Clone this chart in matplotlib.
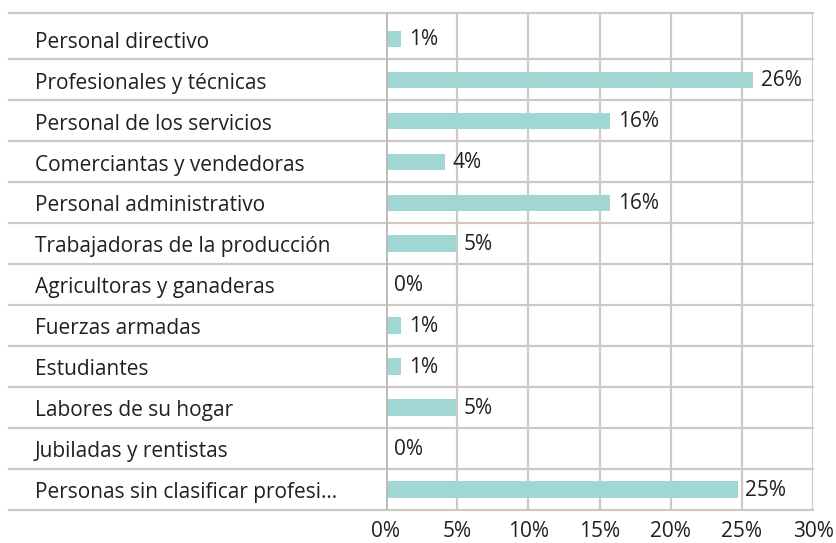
import matplotlib
matplotlib.use("Agg")
import matplotlib.pyplot as plt
import matplotlib.transforms as mtransforms

categories = ['Personal directivo', 'Profesionales y técnicas', 'Personal de los servicios',
              'Comerciantas y vendedoras', 'Personal administrativo',
              'Trabajadoras de la producción', 'Agricultoras y ganaderas',
              'Fuerzas armadas', 'Estudiantes', 'Labores de su hogar',
              'Jubiladas y rentistas', 'Personas sin clasificar profesi...']
values = [1.05, 25.8, 15.75, 4.15, 15.75, 4.9, 0.0, 1.05, 1.05, 4.9, 0.0, 24.7]
value_labels = ['1%', '26%', '16%', '4%', '16%', '5%', '0%', '1%', '1%', '5%', '0%', '25%']
xticks = [0, 5, 10, 15, 20, 25, 30]
xtick_labels = ['0%', '5%', '10%', '15%', '20%', '25%', '30%']

plt.rcParams['font.family'] = ['Open Sans', 'DejaVu Sans']
txt_color = '#231f20'
grid_color = '#cdc9c6'
bar_color = '#a0d6d3'
fs = 15

W, H = 836, 543
fig = plt.figure(figsize=(W / 100, H / 100), dpi=100)
x0, x1, y_top, y_bot = 386, 813, 13, 510
ax = fig.add_axes([x0 / W, 1 - y_bot / H, (x1 - x0) / W, (y_bot - y_top) / H])

n = len(categories)
pos = list(range(n))
ax.barh(pos, values, height=0.4, color=bar_color, zorder=3)
ax.set_xlim(0, 30)
ax.set_ylim(n - 0.5, -0.63)

for s in ax.spines.values():
    s.set_visible(False)

# vertical grid
for t in xticks:
    ax.axvline(t, color=grid_color, lw=1.6, zorder=1)
ax.axvline(0, color='#bdb9b6', lw=2, zorder=4)

# horizontal lines across the label column too
left_frac = (9 - x0) / (x1 - x0)
for b in [-0.63] + [i + 0.5 for i in range(n)]:
    ax.axhline(b, xmin=left_frac, xmax=1, color=grid_color, lw=1.6, clip_on=False, zorder=1)

trans = mtransforms.blended_transform_factory(ax.transAxes, ax.transData)
lab_x = (35 - x0) / (x1 - x0)
for i, c in enumerate(categories):
    ax.text(lab_x, i + 0.08, c, transform=trans, ha='left', va='center',
            fontsize=fs, color=txt_color)

for i, (v, l) in enumerate(zip(values, value_labels)):
    ax.text(v + 0.55, i + 0.02, l, ha='left', va='center', fontsize=fs,
            color=txt_color, zorder=5)

ax.set_yticks([])
ax.set_xticks(xticks)
ax.set_xticklabels(xtick_labels, fontsize=fs, color=txt_color)
ax.tick_params(axis='x', length=0, pad=8)

fig.savefig('out.png', dpi=100, facecolor='white')
